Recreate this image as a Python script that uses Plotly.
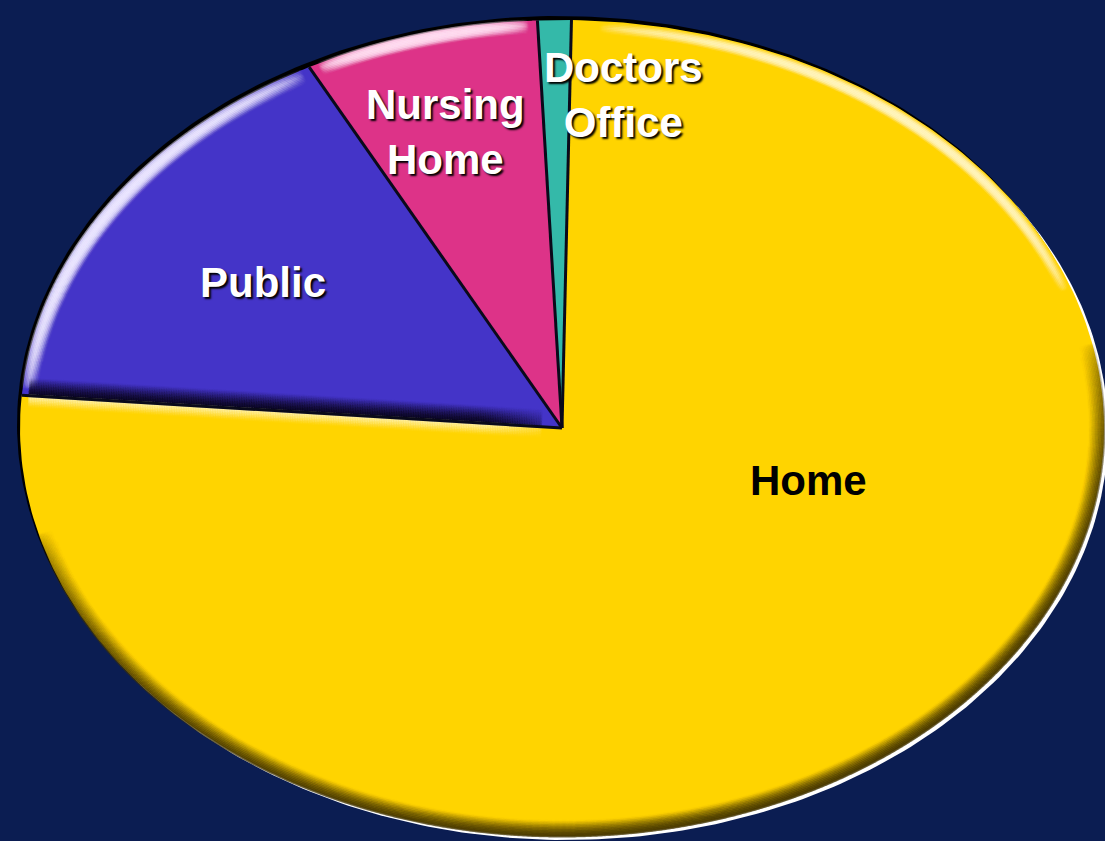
import numpy as np
import plotly.graph_objects as go

# ---- data ----
categories = ["Home", "Public", "Nursing Home", "Doctors Office"]
values = [76, 16, 7, 1]
slice_colors = ["#FFD400", "#4434C8", "#DD3388", "#34B9A9"]
label_text = ["Home", "Public", "Nursing<br>Home", "Doctors<br>Office"]
label_colors = ["#000000", "#FFFFFF", "#FFFFFF", "#FFFFFF"]
label_pos = [(808, 480), (263, 283), (445, 132), (623, 95)]  # pixel centres

# ---- geometry (pixel frame) ----
W, H = 1105, 841
cx, cy = 562, 428
a, b = 542, 408
start_deg = 89.0

x_range = [-cx / a, (W - cx) / a]
y_range = [-(H - cy) / b, cy / b]

fracs = np.array(values, dtype=float) / np.sum(values)
bounds = start_deg - 360.0 * np.concatenate([[0], np.cumsum(fracs)])

fig = go.Figure()

# outer rim: dark upper-left edge, light lower-right edge
t = np.linspace(0, 2 * np.pi, 400)
fig.add_trace(go.Scatter(x=np.cos(t) + 4 / a, y=np.sin(t) - 4 / b, fill="toself",
                         fillcolor="#FFFFFF", line=dict(width=0), mode="lines",
                         hoverinfo="skip"))
fig.add_trace(go.Scatter(x=np.cos(t) - 3 / a, y=np.sin(t) + 4 / b, fill="toself",
                         fillcolor="#000000", line=dict(width=0), mode="lines",
                         hoverinfo="skip"))

for i, cat in enumerate(categories):
    th = np.radians(np.linspace(bounds[i], bounds[i + 1], 300))
    xs = np.concatenate([[0], np.cos(th), [0]])
    ys = np.concatenate([[0], np.sin(th), [0]])
    fig.add_trace(go.Scatter(x=xs, y=ys, fill="toself", fillcolor=slice_colors[i],
                             line=dict(width=0), mode="lines", name=cat,
                             hoverinfo="name+text", text=[f"{values[i]}%"] * len(xs)))


def rim_band(a0, a1, depth, rgb, amax, peak=0.0, n=900, size=3):
    """soft band inside the rim between angles a0..a1 (deg), fading with depth."""
    xs, ys, cs = [], [], []
    th = np.radians(np.linspace(a0, a1, n))
    taper = np.sin(np.linspace(0, np.pi, n)) ** 0.6
    for d in np.arange(0, depth, 1.5):
        rel = abs(d / depth - peak) / max(peak, 1 - peak)
        al = amax * (1 - rel) ** 1.4
        xs.append(np.cos(th) * (1 - d / a))
        ys.append(np.sin(th) * (1 - d / b))
        cs += [f"rgba({rgb},{v:.3f})" for v in al * taper]
    fig.add_trace(go.Scatter(x=np.concatenate(xs), y=np.concatenate(ys), mode="markers",
                             marker=dict(color=cs, size=size, line=dict(width=0)),
                             hoverinfo="skip"))


def edge_band(ang, side, depth, rgb, amax, n=300, size=3):
    """soft band alongside a radial separator (pixel offsets, side=+1 ccw)."""
    r = np.radians(ang)
    ex, ey = a * np.cos(r), -b * np.sin(r)  # pixel vector centre->rim
    L = np.hypot(ex, ey)
    nx, ny = -ey / L, ex / L  # perpendicular (pixel)
    if side < 0:
        nx, ny = -nx, -ny
    s = np.linspace(0.04, 0.985, n)
    taper = np.clip(s / 0.15, 0, 1)
    xs, ys, cs = [], [], []
    for d in np.arange(0, depth, 1.5):
        al = amax * (1 - d / depth) ** 1.3
        px = cx + s * ex + d * nx
        py = cy + s * ey + d * ny
        xs.append((px - cx) / a)
        ys.append((cy - py) / b)
        cs += [f"rgba({rgb},{v:.3f})" for v in al * taper]
    fig.add_trace(go.Scatter(x=np.concatenate(xs), y=np.concatenate(ys), mode="markers",
                             marker=dict(color=cs, size=size, line=dict(width=0)),
                             hoverinfo="skip"))


# bevel shading
rim_band(12, -165, 16, "70,55,0", 0.6, n=1400)                 # Home lower-right shadow
rim_band(86, 20, 14, "255,245,190", 0.55, peak=0.5, n=900)     # Home upper highlight
rim_band(bounds[1] - 1, bounds[2] + 1, 16, "235,230,255", 0.6, peak=0.35, n=700)  # Public rim light
rim_band(bounds[2] - 1, bounds[3] + 1, 14, "255,220,240", 0.6, peak=0.35, n=400)  # Nursing rim light
edge_band(bounds[1], +1, 18, "10,5,30", 0.8)                   # Public lower edge shadow
edge_band(bounds[1], -1, 12, "255,245,190", 0.55)              # Home upper edge light

# slice separators
for ang in bounds[:-1]:
    r = np.radians(ang)
    fig.add_trace(go.Scatter(x=[0, np.cos(r)], y=[0, np.sin(r)], mode="lines",
                             line=dict(color="#0A0A1A", width=3), hoverinfo="skip"))

for i in range(len(categories)):
    px, py = label_pos[i]
    fig.add_annotation(x=px / W, y=1 - py / H, xref="paper", yref="paper",
                       text=f"<b>{label_text[i]}</b>", showarrow=False,
                       xanchor="center", yanchor="middle",
                       font=dict(family="Liberation Sans, Arial, sans-serif", size=42,
                                 color=label_colors[i],
                                 shadow="none" if i == 0 else "2px 2px 2px #000000"))

fig.update_layout(
    width=W, height=H, margin=dict(l=0, r=0, t=0, b=0),
    paper_bgcolor="#0B1D52", plot_bgcolor="#0B1D52",
    showlegend=False,
    xaxis=dict(range=x_range, visible=False, fixedrange=True),
    yaxis=dict(range=y_range, visible=False, fixedrange=True),
)

fig.write_html("out.html")
